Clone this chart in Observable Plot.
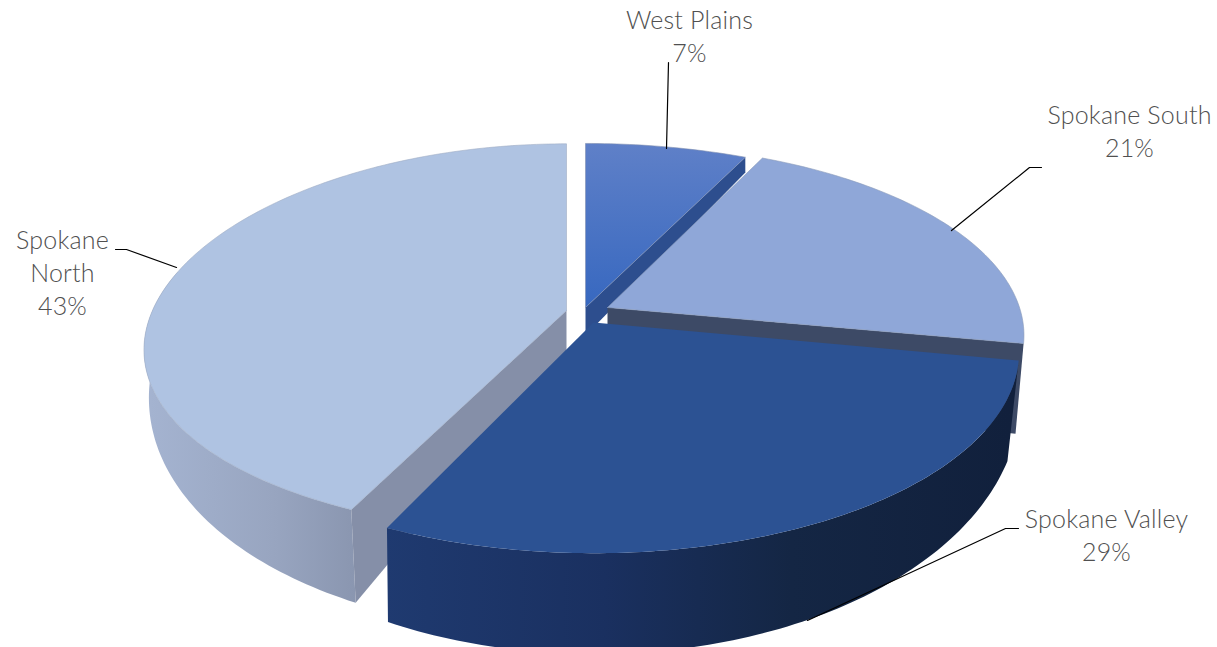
<!DOCTYPE html>
<html><head><meta charset="utf-8">
<style>html,body{margin:0;padding:0;background:#fff}svg{display:block}</style>
<script src="https://cdn.jsdelivr.net/npm/d3@7"></script>
<script src="https://cdn.jsdelivr.net/npm/@observablehq/plot@0.6"></script>
</head><body><div id="chart"></div>
<script>
const categories = ["West Plains", "Spokane South", "Spokane Valley", "Spokane\nNorth"];
const shares = [7, 21, 29, 43];

// Layout of the exploded 3D pie: top and bottom plane of every slice.
const W = 1217, H = 647;
const slices = [
  {top:{x:585,y:307,a:188,b:425,p:.146,px:.146}, bot:{x:585,y:335,a:204,b:425,p:.146,px:.146}},
  {top:{x:607,y:307,a:187,b:412,p:.146,px:.146}, bot:{x:607,y:390,a:225,b:404,p:.146,px:.146}},
  {top:{x:593,y:322,a:197,b:421,p:.146,px:.146}, bot:{x:594,y:362,a:249,b:421,p:.146,px:.146}},
  {top:{x:566,y:310,a:191,b:414,p:.146,px:.2}, bot:{x:566,y:350,a:242,b:410,p:.146,px:.19}}
];
const wallFrom = {2: 112};           // bottom rim hidden behind the top rim before this angle
const labelAnchors = [[689,5],[1129,100],[1106,504],[62,225]];
const leaders = [
  [[668,62],[666,148]],
  [[1041,167],[1029,167],[951,230]],
  [[1018,528],[1005,528],[807,620]],
  [[115,249],[126,249],[176,267]]
];
const fills = {
  top:["url(#gWest)","#8fa7d8","#2c5293","#afc3e2"],
  cut:["#2d4e8e","#3d4a66","#000","#858fa8"],
  wall:["none","#3d4a66","url(#gValley)","url(#gNorth)"]
};

const toRad = d => d * Math.PI / 180;
function pt(deg, pl) {
  const u = Math.sin(toRad(deg)), v = -Math.cos(toRad(deg));
  return [pl.x + pl.b * u / (1 - pl.px * v), pl.y + pl.a * v / (1 - pl.p * v)];
}
function arc(d0, d1, pl) {
  const n = Math.max(2, Math.ceil(Math.abs(d1 - d0)));
  return d3.range(n + 1).map(i => pt(d0 + (d1 - d0) * i / n, pl));
}
let acc = 0;
const angles = shares.map(v => { const a = [acc, acc + v * 3.6]; acc += v * 3.6; return a; });

const poly = (pts, fill, extra = {}) => Plot.line(pts, {x: d => d[0], y: d => d[1], fill, stroke: "none", curve: "linear", ...extra});
const topFace = i => {
  const [a0, a1] = angles[i], s = slices[i];
  return poly([[s.top.x, s.top.y], ...arc(a0, a1, s.top), [s.top.x, s.top.y]], fills.top[i],
    {stroke: i === 3 ? "#a0adc5" : i === 1 ? "#8a9ab8" : i === 0 ? "#7f8fb0" : "none", strokeWidth: 0.6});
};
const wall = (i, a0, a1, bot0 = a0) => {
  const s = slices[i];
  return poly([...arc(a0, a1, s.top), ...arc(a1, bot0, s.bot)], fills.wall[i]);
};
const cut = (i, deg) => {
  const s = slices[i];
  return poly([[s.top.x, s.top.y], pt(deg, s.top), pt(deg, s.bot), [s.bot.x, s.bot.y]], fills.cut[i]);
};

function defs() {
  const d = d3.create("svg:defs");
  const grad = (id, x1, y1, x2, y2, stops) => {
    const g = d.append("linearGradient").attr("id", id).attr("gradientUnits", "userSpaceOnUse")
      .attr("x1", x1).attr("y1", y1).attr("x2", x2).attr("y2", y2);
    stops.forEach(([o, c]) => g.append("stop").attr("offset", o).attr("stop-color", c));
  };
  grad("gWest", 0, 143, 0, 320, [[0, "#5f80c8"], [1, "#3466bf"]]);
  grad("gValley", 385, 0, 1010, 0, [[0, "#1f3a70"], [.35, "#1a3060"], [.65, "#142644"], [1, "#11203c"]]);
  grad("gNorth", 150, 0, 355, 0, [[0, "#a4b3d0"], [.6, "#98a5c0"], [1, "#8a96b0"]]);
  return d.node();
}

const chart = Plot.plot({
  width: W, height: H, margin: 0,
  style: {letterSpacing: "0.2px"},
  x: {domain: [0, W], range: [0, W], axis: null},
  y: {domain: [0, H], range: [0, H], axis: null},
  marks: [
    defs,
    wall(3, angles[3][0], 282),
    cut(3, angles[3][0]),
    topFace(3),
    cut(0, angles[0][1]),
    topFace(0),
    cut(1, angles[1][1]),
    topFace(1),
    wall(2, angles[2][0], angles[2][1], wallFrom[2]),
    topFace(2),
    ...leaders.map(l => Plot.line(l, {x: d => d[0], y: d => d[1], stroke: "#000", strokeWidth: 1.2, curve: "linear"})),
    Plot.text(categories.map((c, i) => ({t: `${c}\n${shares[i]}%`, x: labelAnchors[i][0], y: labelAnchors[i][1]})), {
      x: "x", y: "y", text: "t", lineAnchor: "top", lineHeight: 1.32,
      fontSize: 25, fontFamily: "Lato", fontWeight: 300, fill: "#505050"
    })
  ]
});
document.getElementById("chart").append(chart);
</script></body></html>
